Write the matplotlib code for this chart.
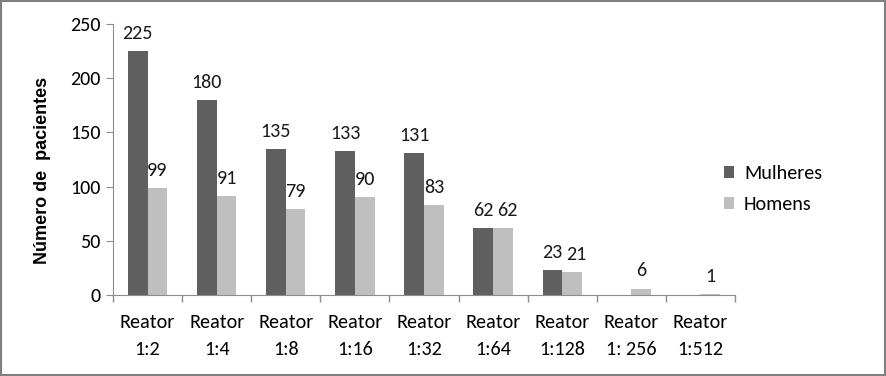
import numpy as np
import matplotlib.pyplot as plt
from matplotlib import font_manager
from matplotlib.patches import Rectangle

# fonte estreita parecida com Calibri, se existir
nomes = {f.name for f in font_manager.fontManager.ttflist}
fonte = "Lato"
for cand in ["Carlito", "Liberation Sans Narrow", "Roboto Condensed", "Open Sans Condensed", "Lato"]:
    if cand in nomes:
        fonte = cand
        break
plt.rcParams['font.family'] = [fonte, 'DejaVu Sans']

categorias = ["Reator\n1:2", "Reator\n1:4", "Reator\n1:8", "Reator\n1:16", "Reator\n1:32",
              "Reator\n1:64", "Reator\n1:128", "Reator\n1: 256", "Reator\n1:512"]
mulheres = [225, 180, 135, 133, 131, 62, 23, 0, 0]
homens = [99, 91, 79, 90, 83, 62, 21, 6, 1]

cor_mulheres = "#5f5f5f"
cor_homens = "#bfbfbf"
cor_eixo = "#8c8c8c"
tam = 14.5

fig = plt.figure(figsize=(8.87, 3.76), dpi=100)
ax = fig.add_axes([0.1274, 0.2154, 0.7013, 0.7207])

x = np.arange(len(categorias))
w = 0.285
b1 = ax.bar(x - w / 2, mulheres, w, color=cor_mulheres, label="Mulheres")
b2 = ax.bar(x + w / 2, homens, w, color=cor_homens, label="Homens")

# rotulos de dados (sem rotulo quando o valor e zero)
for i in range(len(categorias)):
    m, h = mulheres[i], homens[i]
    if m:
        ax.annotate(str(m), (x[i] - w / 2, m), xytext=(0, 6.5), textcoords="offset points",
                    ha="center", va="bottom", fontsize=tam, color="#1a1a1a")
    if h:
        # quando os dois rotulos ficam juntos, o da direita afasta um pouco
        dx = 3 if (m and abs(m - h) < 15) else 0
        ax.annotate(str(h), (x[i] + w / 2, h), xytext=(dx, 6.5), textcoords="offset points",
                    ha="center", va="bottom", fontsize=tam, color="#1a1a1a")

ax.set_xlim(-0.5, len(categorias) - 0.5)
ax.set_ylim(0, 250)
ax.set_yticks(range(0, 251, 50))
ax.set_xticks(x)
ax.set_xticklabels(categorias, fontsize=tam, linespacing=1.65)
ax.set_xticks(np.arange(-0.5, len(categorias)), minor=True)
ax.tick_params(axis="x", which="major", length=0, pad=14)
ax.tick_params(axis="x", which="minor", length=5, color=cor_eixo, width=1)
ax.tick_params(axis="y", length=5, color=cor_eixo, labelsize=tam, pad=4)

for lado in ("top", "right"):
    ax.spines[lado].set_visible(False)
for lado in ("left", "bottom"):
    ax.spines[lado].set_color(cor_eixo)

ax.set_ylabel("Número de  pacientes", fontsize=13, fontweight="bold",
              family=["Liberation Sans", "DejaVu Sans"])
ax.yaxis.set_label_coords(-0.1, 0.46)

ax.legend(loc="center left", bbox_to_anchor=(0.953, 0.39), frameon=False,
          fontsize=tam, handlelength=0.5, handleheight=0.5, labelspacing=0.7,
          handletextpad=0.5)

# moldura da figura
fig.patches.append(Rectangle((0.001, 0.002), 0.997, 0.995, transform=fig.transFigure,
                             fill=False, edgecolor="#7f7f7f", linewidth=1.5))

fig.savefig("out.png", dpi=100)
